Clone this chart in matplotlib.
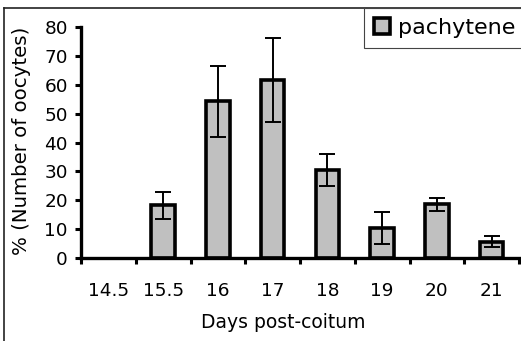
import numpy as np
import matplotlib
matplotlib.use('Agg')
import matplotlib.pyplot as plt
from matplotlib.lines import Line2D

# =============================================================================
# Data
# =============================================================================
days = ['14.5', '15.5', '16', '17', '18', '19', '20', '21']
pachytene = [0.0, 18.2, 54.2, 61.6, 30.4, 10.4, 18.6, 5.7]
pachytene_err = [0.0, 4.8, 12.3, 14.5, 5.5, 5.5, 2.3, 2.0]

# =============================================================================
# Plot
# =============================================================================
plt.rcParams['font.family'] = ['DejaVu Sans']
W, H = 521, 341
fig = plt.figure(figsize=(W / 100., H / 100.), dpi=100)
ax = fig.add_axes([81. / W, 1 - 258. / H, 438. / W, 231. / H])

x = np.arange(len(days)) + 0.5
vals = np.array(pachytene)
errs = np.array(pachytene_err)
mask = vals > 0

ax.bar(x[mask], vals[mask], width=0.43, color='#c0c0c0', edgecolor='black',
       linewidth=2.6, label='pachytene', zorder=2)
ax.errorbar(x[mask], vals[mask], yerr=errs[mask], fmt='none', ecolor='black',
            elinewidth=1.4, capsize=5.6, capthick=1.4, zorder=3)

ax.set_xlim(0, len(days))
ax.set_ylim(0, 80)
ax.set_yticks(np.arange(0, 81, 10))

# category boundaries as major ticks, labels on minor ticks
ax.set_xticks(np.arange(0, len(days) + 1))
ax.set_xticklabels([])
ax.set_xticks(x, minor=True)
ax.set_xticklabels(days, minor=True)
ax.tick_params(axis='x', which='major', direction='out', length=4,
               width=2.2, color='black')
ax.tick_params(axis='x', which='minor', length=0, pad=17, labelsize=13.3)
ax.tick_params(axis='y', direction='out', length=4, width=2.2, pad=5.5,
               labelsize=13.3)

for side in ['top', 'right']:
    ax.spines[side].set_visible(False)
for side in ['left', 'bottom']:
    ax.spines[side].set_linewidth(2.4)
    ax.spines[side].set_zorder(4)

fig.text(283. / W, 1 - 322. / H, 'Days post-coitum', ha='center',
         va='center', fontsize=13.5)
fig.text(22. / W, 1 - 141. / H, '% (Number of oocytes)', ha='center',
         va='center', rotation=90, fontsize=14.2)

# outer frame of the chart area (right and bottom are cut off)
fig.add_artist(Line2D([4. / W, 4. / W], [0, 1 - 8. / H], color='#222222',
                      linewidth=1.2, transform=fig.transFigure))
fig.add_artist(Line2D([4. / W, 1], [1 - 8. / H, 1 - 8. / H],
                      color='#222222', linewidth=1.2,
                      transform=fig.transFigure))

leg = fig.legend(loc='upper left', bbox_to_anchor=(364. / W, 1 - 8. / H),
                 borderaxespad=0, fancybox=False, fontsize=16,
                 handlelength=0.7, handleheight=0.7, handletextpad=0.4,
                 borderpad=0.45, framealpha=1)
leg.get_frame().set_edgecolor('#444444')
leg.get_frame().set_linewidth(0.8)

fig.savefig('out.png', dpi=100)
